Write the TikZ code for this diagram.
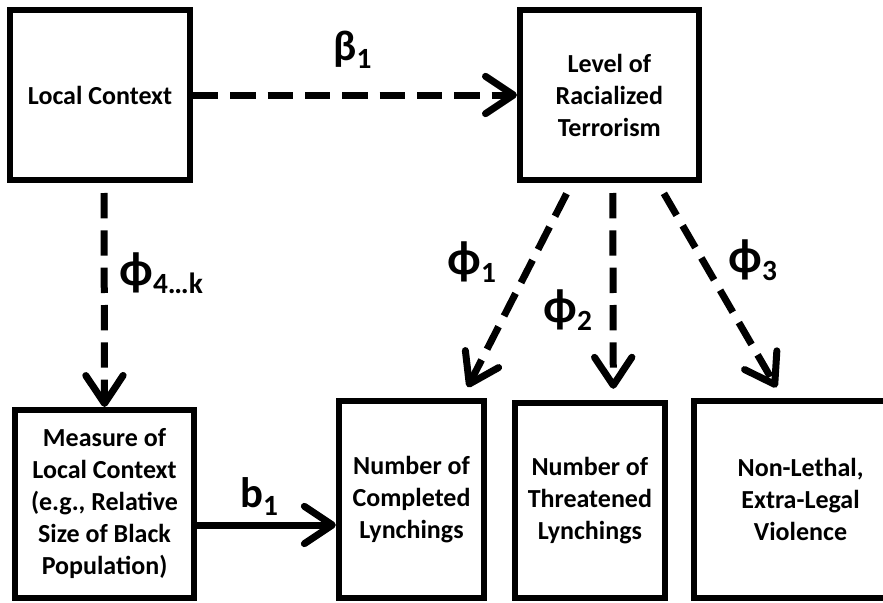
\documentclass[tikz,border=0pt]{standalone}
\usepackage{fontspec}
\setmainfont{Carlito}
\usetikzlibrary{positioning, arrows.meta}

% coefficient label: symbol with a lowered index
\newcommand{\coef}[3]{{\fontsize{#1}{#1}\selectfont #2}\raisebox{-6pt}{\fontsize{22}{22}\selectfont #3}}

\begin{document}
\begin{tikzpicture}[
    x=0.75pt, y=-0.75pt,
    varbox/.style={rectangle, draw=black, fill=white, line width=4.5pt, align=center, inner sep=0pt, font=\bfseries\fontsize{19.5}{24}\selectfont},
    coeflabel/.style={inner sep=0pt, anchor=west, font=\bfseries},
    pathdash/.style={-{Straight Barb[length=21pt, width=28pt, round]}, line width=5.25pt, dash pattern=on 19pt off 9pt},
    pathsolid/.style={-{Straight Barb[length=21pt, width=28pt, round]}, line width=5.25pt}
]
    \clip (0,0) rectangle (883,603);

    % Latent part
    \node[varbox, minimum width=135pt, minimum height=127.5pt] (local) at (100,95) {Local Context};
    \node[varbox, minimum width=134pt, minimum height=127.5pt, right=243pt of local] (terror) {Level of\\Racialized\\Terrorism};

    % Observed part
    \node[varbox, minimum width=134pt, minimum height=141pt, below=168pt of local, xshift=3.4pt] (measure) {Measure of\\Local Context\\(e.g., Relative\\Size of Black\\Population)};
    \node[varbox, minimum width=109pt, minimum height=148pt, right=104.25pt of measure, yshift=3.4pt] (completed) {Number of\\Completed\\Lynchings};
    \node[varbox, minimum width=112pt, minimum height=146pt, right=18.75pt of completed, yshift=-0.75pt] (threatened) {Number of\\Threatened\\Lynchings};
    \node[varbox, minimum width=160.5pt, minimum height=148pt, right=17.25pt of threatened, yshift=0.75pt] (nonlethal) {Non-Lethal,\\Extra-Legal\\Violence};

    % Paths
    \draw[pathdash] (local) -- (terror);
    \draw[pathdash, shorten <=7.5pt] ([xshift=3pt]local.south) -- (measure.north);
    \draw[pathdash, shorten <=9pt, shorten >=9pt] ([xshift=-28pt]terror.south) -- ([xshift=38pt]completed.north);
    \draw[pathdash, shorten <=7.5pt, shorten >=8.5pt] ([xshift=2.6pt]terror.south) -- ([xshift=17.6pt]threatened.north);
    \draw[pathdash, shorten <=9pt, shorten >=9pt] ([xshift=36.4pt]terror.south) -- ([xshift=-13.5pt]nonlethal.north);
    \coordinate (bstart) at ([yshift=-15.75pt]measure.east);
    \draw[pathsolid] (bstart) -- (bstart -| completed.west);

    % Labels
    \node[coeflabel] (beta) at (333,50) {\coef{32}{β}{1}};
    \node[coeflabel] (phik) at (119,273) {\coef{36}{ϕ}{4…k}};
    \node[coeflabel] (phione) at (447,262) {\coef{36}{ϕ}{1}};
    \node[coeflabel] (phitwo) at (543,310) {\coef{36}{ϕ}{2}};
    \node[coeflabel] (phithree) at (728,260) {\coef{36}{ϕ}{3}};
    \node[coeflabel] (bone) at (240,497) {\coef{32}{b}{1}};
\end{tikzpicture}
\end{document}
